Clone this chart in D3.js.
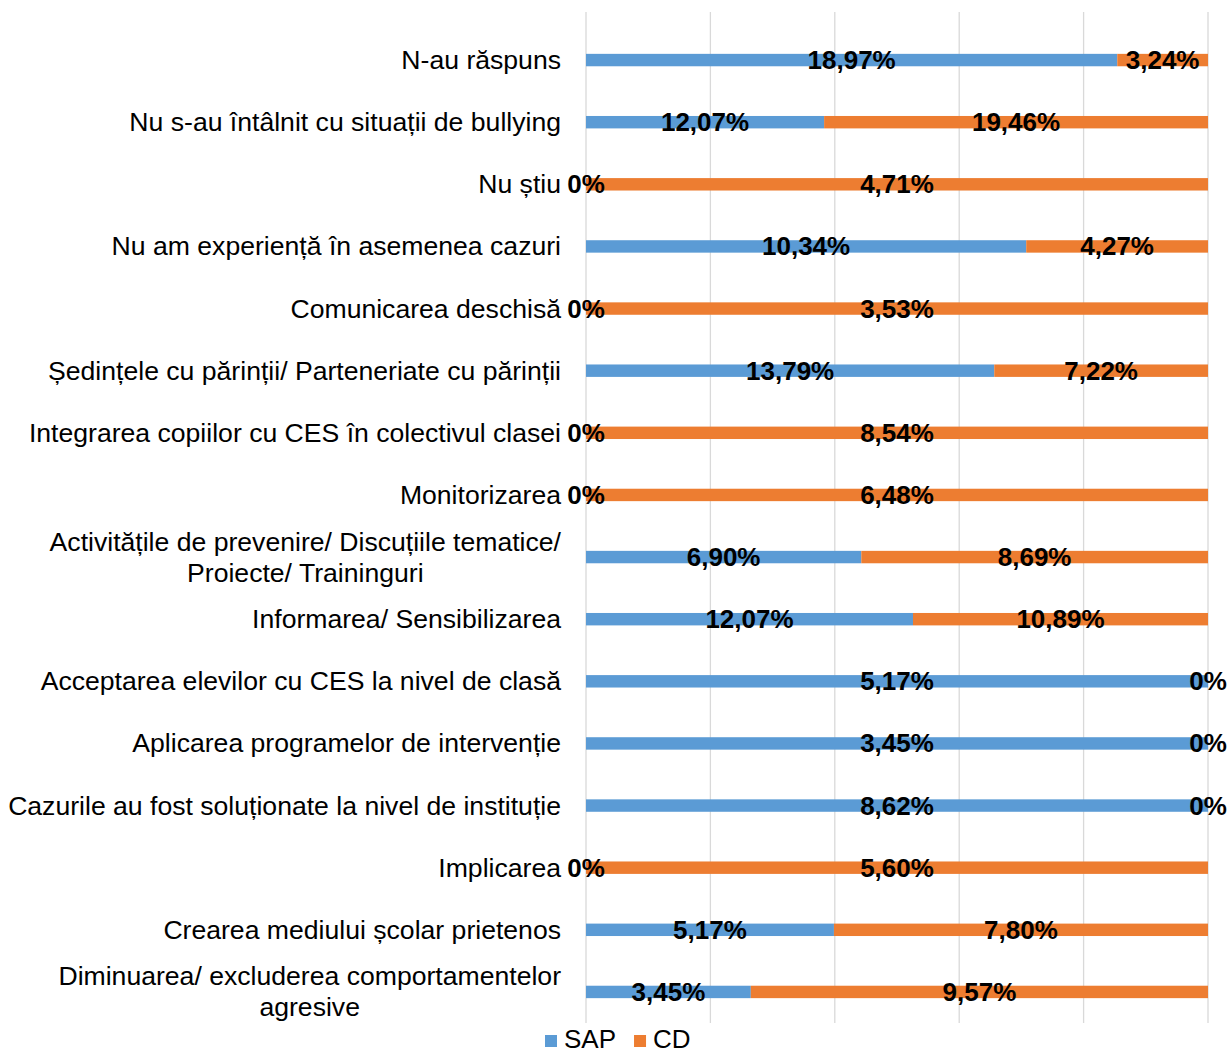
<!DOCTYPE html>
<html>
<head>
<meta charset="utf-8">
<script src="https://cdn.jsdelivr.net/npm/d3@7"></script>
<style>
  html, body { margin: 0; padding: 0; background: #ffffff; }
  svg { display: block; }
</style>
</head>
<body>
<svg id="chart" width="1230" height="1054"></svg>
<script>
// Categories, top to bottom (line breaks mark wrapped labels)
const categories = [
  "N-au răspuns",
  "Nu s-au întâlnit cu situații de bullying",
  "Nu știu",
  "Nu am experiență în asemenea cazuri",
  "Comunicarea deschisă",
  "Ședințele cu părinții/ Parteneriate cu părinții",
  "Integrarea copiilor cu CES în colectivul clasei",
  "Monitorizarea",
  "Activitățile de prevenire/ Discuțiile tematice/\nProiecte/ Traininguri",
  "Informarea/ Sensibilizarea",
  "Acceptarea elevilor cu CES la nivel de clasă",
  "Aplicarea programelor de intervenție",
  "Cazurile au fost soluționate la nivel de instituție",
  "Implicarea",
  "Crearea mediului școlar prietenos",
  "Diminuarea/ excluderea comportamentelor\nagresive"
];

// Percentages per series
const sapValues = [18.97, 12.07, 0, 10.34, 0, 13.79, 0, 0, 6.90, 12.07, 5.17, 3.45, 8.62, 0, 5.17, 3.45];
const cdValues  = [3.24, 19.46, 4.71, 4.27, 3.53, 7.22, 8.54, 6.48, 8.69, 10.89, 0, 0, 0, 5.60, 7.80, 9.57];

const seriesNames  = ["SAP", "CD"];
const seriesColors = ["#5b9bd5", "#ed7d31"];
const gridTicks = [0, 0.2, 0.4, 0.6, 0.8, 1];

const svg = d3.select("#chart");

const plotLeft = 586, plotRight = 1208, plotTop = 29, plotBottom = 1023;
const textFont = "'Liberation Sans', Arial, sans-serif";
const labelSize = 26.6, valueSize = 26;

const x = d3.scaleLinear().domain([0, 1]).range([plotLeft, plotRight]);
const y = d3.scaleBand().domain(d3.range(categories.length))
  .range([plotTop, plotBottom]).paddingInner(0.8).paddingOuter(0.4);

// Vertical gridlines at every 20 %
svg.append("g").selectAll("line").data(gridTicks).join("line")
  .attr("x1", d => x(d)).attr("x2", d => x(d))
  .attr("y1", 12).attr("y2", plotBottom)
  .attr("stroke", "#d9d9d9").attr("stroke-width", 1.3);

// Each row normalised to 100 % and stacked SAP → CD
const segs = categories.map((c, i) => {
  const total = sapValues[i] + cdValues[i];
  const vals = [sapValues[i], cdValues[i]];
  let acc = 0;
  return vals.map((v, s) => {
    const x0 = acc;
    acc += v / total;
    return { i, s, v, x0, x1: acc };
  });
}).flat();

svg.append("g").selectAll("rect").data(segs).join("rect")
  .attr("x", d => x(d.x0))
  .attr("width", d => Math.max(0, x(d.x1) - x(d.x0)))
  .attr("y", d => y(d.i))
  .attr("height", y.bandwidth())
  .attr("fill", d => seriesColors[d.s]);

// Value labels, centred in each segment
const fmt = v => v === 0 ? "0%" : v.toFixed(2).replace(".", ",") + "%";
svg.append("g").selectAll("text").data(segs).join("text")
  .attr("x", d => (x(d.x0) + x(d.x1)) / 2)
  .attr("y", d => y(d.i) + y.bandwidth() / 2)
  .attr("text-anchor", "middle")
  .attr("dominant-baseline", "central")
  .attr("font-family", textFont)
  .attr("font-size", valueSize)
  .attr("font-weight", "bold")
  .attr("fill", "#000")
  .text(d => fmt(d.v));

// Category labels: right-aligned block, wrapped lines centred on each other
const catG = svg.append("g")
  .attr("font-family", textFont).attr("font-size", labelSize).attr("fill", "#000");
const labelRight = 561, lineH = 31;
categories.forEach((c, i) => {
  const lines = c.split("\n");
  const cy = y(i) + y.bandwidth() / 2;
  if (lines.length === 1) {
    catG.append("text").attr("x", labelRight).attr("y", cy)
      .attr("text-anchor", "end").attr("dominant-baseline", "central").text(c);
  } else {
    const texts = lines.map((l, k) => catG.append("text")
      .attr("y", cy + (k - (lines.length - 1) / 2) * lineH)
      .attr("text-anchor", "middle").attr("dominant-baseline", "central").text(l));
    const wmax = d3.max(texts, t => t.node().getComputedTextLength());
    texts.forEach(t => t.attr("x", labelRight - wmax / 2));
  }
});

// Legend
const leg = svg.append("g").attr("font-family", textFont).attr("font-size", 26);
const legY = 1039;
let lx = 545;
seriesNames.forEach((n, s) => {
  leg.append("rect").attr("x", lx).attr("y", legY - 4).attr("width", 12).attr("height", 12)
    .attr("fill", seriesColors[s]);
  const t = leg.append("text").attr("x", lx + 19).attr("y", legY)
    .attr("dominant-baseline", "central").attr("fill", "#000").text(n);
  lx += 19 + t.node().getComputedTextLength() + 18;
});
</script>
</body>
</html>
